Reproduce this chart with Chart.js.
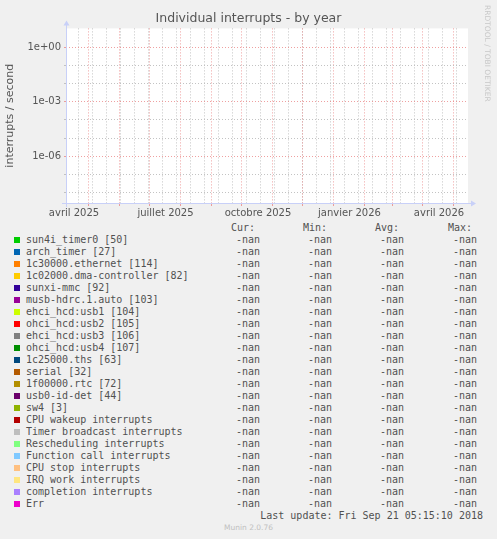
<!DOCTYPE html>
<html>
<head>
<meta charset="utf-8">
<script src="https://cdn.jsdelivr.net/npm/chart.js@4.4.1/dist/chart.umd.min.js"></script>
<style>
  html, body { margin: 0; padding: 0; background: #f0f0f0; }
  #wrap { position: relative; width: 497px; height: 539px; overflow: hidden; }
  #chart { position: absolute; left: 0; top: 0; }
  .mono { position: absolute; font-family: 'DejaVu Sans Mono', monospace; font-size: 10px; line-height: 12px; color: #505050; white-space: pre; }
  .val { width: 60px; text-align: right; }
  .box { position: absolute; width: 6px; height: 6px; }
  #vendor { position: absolute; left: 483px; top: 5px; font-family: 'DejaVu Sans', sans-serif; font-size: 7.5px; color: #c8c8c8; writing-mode: vertical-rl; white-space: nowrap; }
  #munin { position: absolute; left: 0; width: 497px; top: 523px; text-align: center; font-family: 'DejaVu Sans', sans-serif; font-size: 7.5px; color: #c0c0c0; }
</style>
</head>
<body>
<div id="wrap">
  <canvas id="chart" width="497" height="222"></canvas>
  <div id="vendor">RRDTOOL / TOBI OETIKER</div>
  <div id="legend"></div>
  <div id="munin">Munin 2.0.76</div>
</div>
<script>
// --- chart data (all series are -nan in this graph) ---
const seriesNames = [
  'sun4i_timer0 [50]', 'arch_timer [27]', '1c30000.ethernet [114]', '1c02000.dma-controller [82]',
  'sunxi-mmc [92]', 'musb-hdrc.1.auto [103]', 'ehci_hcd:usb1 [104]', 'ohci_hcd:usb2 [105]',
  'ehci_hcd:usb3 [106]', 'ohci_hcd:usb4 [107]', '1c25000.ths [63]', 'serial [32]',
  '1f00000.rtc [72]', 'usb0-id-det [44]', 'sw4 [3]', 'CPU wakeup interrupts',
  'Timer broadcast interrupts', 'Rescheduling interrupts', 'Function call interrupts',
  'CPU stop interrupts', 'IRQ work interrupts', 'completion interrupts', 'Err'
];
const seriesColors = [
  '#00CC00', '#0066B3', '#FF8000', '#FFCC00', '#330099', '#990099', '#CCFF00', '#FF0000',
  '#808080', '#008F00', '#00487D', '#B35A00', '#B38F00', '#6B006B', '#8FB300', '#B30000',
  '#BEBEBE', '#80FF80', '#80C9FF', '#FFC080', '#FFE680', '#AA80FF', '#EE00CC'
];
const curValues = [NaN, NaN, NaN, NaN, NaN, NaN, NaN, NaN, NaN, NaN, NaN, NaN, NaN, NaN, NaN, NaN, NaN, NaN, NaN, NaN, NaN, NaN, NaN];
const minValues = [NaN, NaN, NaN, NaN, NaN, NaN, NaN, NaN, NaN, NaN, NaN, NaN, NaN, NaN, NaN, NaN, NaN, NaN, NaN, NaN, NaN, NaN, NaN];
const avgValues = [NaN, NaN, NaN, NaN, NaN, NaN, NaN, NaN, NaN, NaN, NaN, NaN, NaN, NaN, NaN, NaN, NaN, NaN, NaN, NaN, NaN, NaN, NaN];
const maxValues = [NaN, NaN, NaN, NaN, NaN, NaN, NaN, NaN, NaN, NaN, NaN, NaN, NaN, NaN, NaN, NaN, NaN, NaN, NaN, NaN, NaN, NaN, NaN];

// x axis in days from the left edge of the graph (400 day window)
const xMin = 0;
const xMax = 402;
const monthTicks = [22.3, 53.3, 83.3, 114.3, 145.3, 175.5, 206.3, 236.3, 267.3, 298.3, 326.3, 356.8, 387.5];
const minorXTicks = [12.3, 26.3, 40.3, 54.3, 68.3, 82.3, 96.3, 110.3, 124.3, 138.3, 152.3, 166.3, 180.3, 194.3,
  208.3, 222.3, 236.3, 250.3, 264.3, 278.3, 292.3, 306.3, 320.3, 334.3, 348.3, 362.3, 376.3, 390.3];
const xLabelTicks = [8, 99.5, 192, 283.5, 373];
const xLabels = ['avril 2025', 'juillet 2025', 'octobre 2025', 'janvier 2026', 'avril 2026'];

// y axis (log)
const yMin = 2.75e-9;
const yMax = 10.6;
const yMinorTicks = [1e-8, 1e-7, 1e-5, 1e-4, 1e-2, 1e-1];
const yMajorTicks = [1e-6, 1e-3, 1e0];
const yLabels = ['1e-06', '1e-03', '1e+00'];

const titleText = 'Individual interrupts - by year';
const gridGray = 'rgba(185,185,185,0.85)';
const gridRed = 'rgba(232,120,120,0.7)';
const axisColor = '#c8d0f8';

function xTicks() {
  const t = [];
  minorXTicks.forEach(v => t.push({ value: v, kind: 'minor', text: '' }));
  monthTicks.forEach(v => t.push({ value: v, kind: 'month', text: '' }));
  xLabelTicks.forEach((v, i) => t.push({ value: v, kind: 'label', text: xLabels[i] }));
  return t.sort((a, b) => a.value - b.value);
}

function yTicks() {
  const t = [];
  yMinorTicks.forEach(v => t.push({ value: v, kind: 'minor', text: '' }));
  yMajorTicks.forEach((v, i) => t.push({ value: v, kind: 'major', text: yLabels[i] }));
  return t.sort((a, b) => a.value - b.value);
}

const munDecor = {
  id: 'munDecor',
  beforeDraw(chart) {
    const a = chart.chartArea, ctx = chart.ctx;
    ctx.save();
    ctx.fillStyle = '#ffffff';
    ctx.fillRect(a.left, a.top, a.right - a.left, a.bottom - a.top);
    // title centred on the whole image
    ctx.fillStyle = '#555';
    ctx.font = '12.5px "DejaVu Sans"';
    ctx.textAlign = 'center';
    ctx.textBaseline = 'middle';
    ctx.fillText(titleText, chart.width / 2, 19);
    ctx.restore();
  },
  afterDraw(chart) {
    const a = chart.chartArea, ctx = chart.ctx;
    ctx.save();
    ctx.strokeStyle = axisColor;
    ctx.fillStyle = axisColor;
    ctx.lineWidth = 1;
    const by = Math.round(a.bottom) + 0.5, lx = Math.round(a.left) + 0.5;
    ctx.beginPath();
    ctx.moveTo(a.left - 4, by);
    ctx.lineTo(a.right + 4, by);
    ctx.moveTo(lx, a.bottom + 4);
    ctx.lineTo(lx, a.top - 4);
    ctx.stroke();
    // arrow heads
    ctx.beginPath();
    ctx.moveTo(a.right + 3, by - 3);
    ctx.lineTo(a.right + 8, by);
    ctx.lineTo(a.right + 3, by + 3);
    ctx.closePath();
    ctx.fill();
    ctx.beginPath();
    ctx.moveTo(lx - 3, a.top - 3);
    ctx.lineTo(lx, a.top - 8);
    ctx.lineTo(lx + 3, a.top - 3);
    ctx.closePath();
    ctx.fill();
    ctx.restore();
  }
};

const datasets = seriesNames.map((name, i) => ({
  label: name,
  data: [],
  borderColor: seriesColors[i],
  backgroundColor: seriesColors[i]
}));

new Chart(document.getElementById('chart'), {
  type: 'line',
  data: { datasets },
  plugins: [munDecor],
  options: {
    responsive: false,
    animation: false,
    devicePixelRatio: 1,
    layout: { padding: { left: 0, right: 29, top: 28.4, bottom: 0 } },
    plugins: {
      legend: { display: false },
      tooltip: { enabled: false },
      title: { display: false }
    },
    scales: {
      x: {
        type: 'linear',
        min: xMin,
        max: xMax,
        afterBuildTicks: s => { s.ticks = xTicks(); },
        afterFit: s => { s.height = 19; },
        border: { display: false, dash: [1, 2] },
        grid: {
          color: c => c.tick && c.tick.kind === 'month' ? gridRed : (c.tick && c.tick.kind === 'minor' ? gridGray : 'rgba(0,0,0,0)'),
          tickColor: c => c.tick && c.tick.kind === 'month' ? gridRed : 'rgba(0,0,0,0)',
          tickLength: 3,
          tickBorderDash: []
        },
        ticks: {
          autoSkip: false,
          maxRotation: 0,
          minRotation: 0,
          padding: 1,
          color: '#555',
          font: { family: 'DejaVu Sans', size: 10 },
          callback: (v, i, t) => t[i].text || ''
        }
      },
      y: {
        type: 'logarithmic',
        min: yMin,
        max: yMax,
        afterBuildTicks: s => { s.ticks = yTicks(); },
        afterFit: s => { s.width = 66; },
        border: { display: false, dash: [1, 2] },
        grid: {
          color: c => c.tick && c.tick.kind === 'major' ? gridRed : gridGray,
          tickColor: c => c.tick && c.tick.kind === 'major' ? gridRed : gridGray,
          tickLength: 2,
          tickBorderDash: []
        },
        ticks: {
          autoSkip: false,
          padding: 3,
          color: '#555',
          font: { family: 'DejaVu Sans', size: 10 },
          callback: (v, i, t) => t[i].text || ''
        },
        title: {
          display: true,
          text: 'interrupts / second',
          color: '#555',
          font: { family: 'DejaVu Sans', size: 11 },
          padding: { top: 4, bottom: 0 }
        }
      }
    }
  }
});

// --- legend table (munin style) ---
const legend = document.getElementById('legend');
const colRight = [260, 332, 404, 477];
const headRight = [255, 327, 399, 472];
const heads = ['Cur:', 'Min:', 'Avg:', 'Max:'];
const fmt = v => isNaN(v) ? '-nan' : v.toFixed(2);

function addText(text, left, top, cls) {
  const d = document.createElement('div');
  d.className = 'mono' + (cls ? ' ' + cls : '');
  d.style.left = left + 'px';
  d.style.top = top + 'px';
  d.textContent = text;
  legend.appendChild(d);
}

heads.forEach((h, i) => addText(h, headRight[i] - 60, 222, 'val'));
seriesNames.forEach((name, i) => {
  const top = 234 + i * 12;
  const b = document.createElement('div');
  b.className = 'box';
  b.style.left = '14px';
  b.style.top = (top + 3) + 'px';
  b.style.background = seriesColors[i];
  legend.appendChild(b);
  addText(name, 26, top);
  [curValues[i], minValues[i], avgValues[i], maxValues[i]].forEach((v, j) => {
    addText(fmt(v), colRight[j] - 60, top, 'val');
  });
});
const upd = document.createElement('div');
upd.className = 'mono';
upd.style.right = (497 - 483) + 'px';
upd.style.top = '510px';
upd.textContent = 'Last update: Fri Sep 21 05:15:10 2018';
legend.appendChild(upd);
</script>
</body>
</html>
